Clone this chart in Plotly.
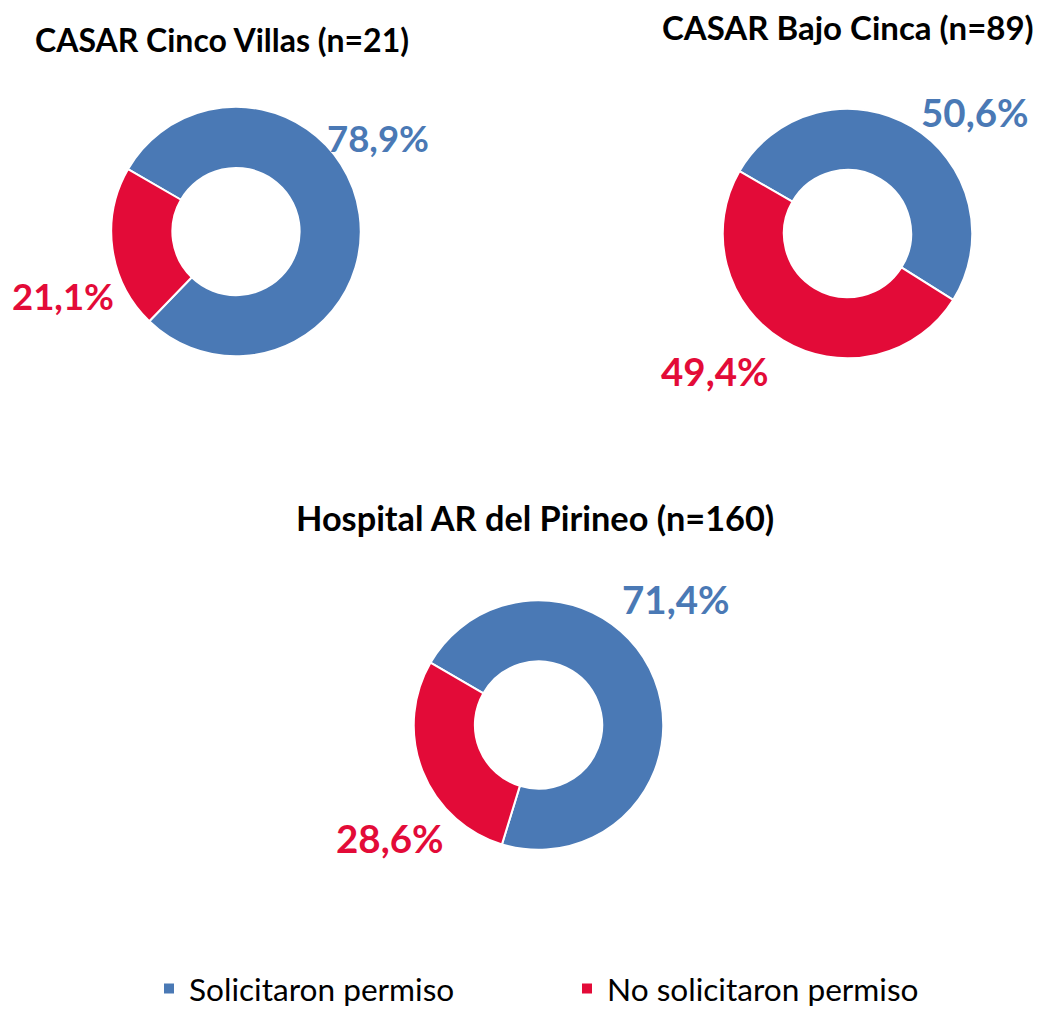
import plotly.graph_objects as go

W, H = 1042, 1009
OFF = 8  # page body margin of the HTML page

categories = ["Solicitaron permiso", "No solicitaron permiso"]
colors = ["#4A79B5", "#E30B38"]

titles = ["CASAR Cinco Villas (n=21)", "CASAR Bajo Cinca (n=89)", "Hospital AR del Pirineo (n=160)"]
cinco_villas = [78.9, 21.1]
bajo_cinca = [50.6, 49.4]
pirineo = [71.4, 28.6]
series = [cinco_villas, bajo_cinca, pirineo]

# layout (pixels): pie centre, radius; title centre; label centres; font sizes
pie_centres = [(236, 232), (847.5, 234), (538.5, 726.5)]
radius = 125
title_pos = [(222, 40), (848, 27), (535, 519)]
title_sizes = [32, 33, 34.3]
label_pos = [[(378, 138), (63, 297)], [(975, 112), (715, 372)], [(676, 600), (390, 840)]]
label_sizes = [36.5, 38.5, 38.5]

def px(x):
    return (x - OFF) / W

def py(y):
    return 1 - (y - OFF) / H

fig = go.Figure()
for i, vals in enumerate(series):
    cx, cy = pie_centres[i]
    fig.add_trace(go.Pie(
        labels=categories,
        values=vals,
        hole=0.51,
        sort=False,
        direction="clockwise",
        rotation=300,
        marker=dict(colors=colors, line=dict(color="white", width=2)),
        textinfo="none",
        hoverinfo="label+percent",
        showlegend=(i == 0),
        domain=dict(x=[px(cx - radius), px(cx + radius)], y=[py(cy + radius), py(cy - radius)]),
    ))

annotations = []
for i, t in enumerate(titles):
    tx, ty = title_pos[i]
    annotations.append(dict(
        text=f"<b>{t}</b>", x=px(tx), y=py(ty), xref="paper", yref="paper",
        xanchor="center", yanchor="middle", showarrow=False,
        font=dict(family="Lato", size=title_sizes[i], color="#000000"),
    ))
    for j, v in enumerate(series[i]):
        lx, ly = label_pos[i][j]
        annotations.append(dict(
            text="<b>" + f"{v:.1f}".replace(".", ",") + "%</b>",
            x=px(lx), y=py(ly), xref="paper", yref="paper",
            xanchor="center", yanchor="middle", showarrow=False,
            font=dict(family="Lato", size=label_sizes[i], color=colors[j]),
        ))

fig.update_layout(
    width=W, height=H,
    margin=dict(l=0, r=0, t=0, b=0),
    paper_bgcolor="white",
    plot_bgcolor="white",
    annotations=annotations,
    legend=dict(
        orientation="h",
        x=px(149), xanchor="left",
        y=py(991), yanchor="middle",
        font=dict(family="Lato", size=31.6, color="#000000"),
        entrywidth=373,
        traceorder="normal",
    ),
)

fig.write_html("out.html")
